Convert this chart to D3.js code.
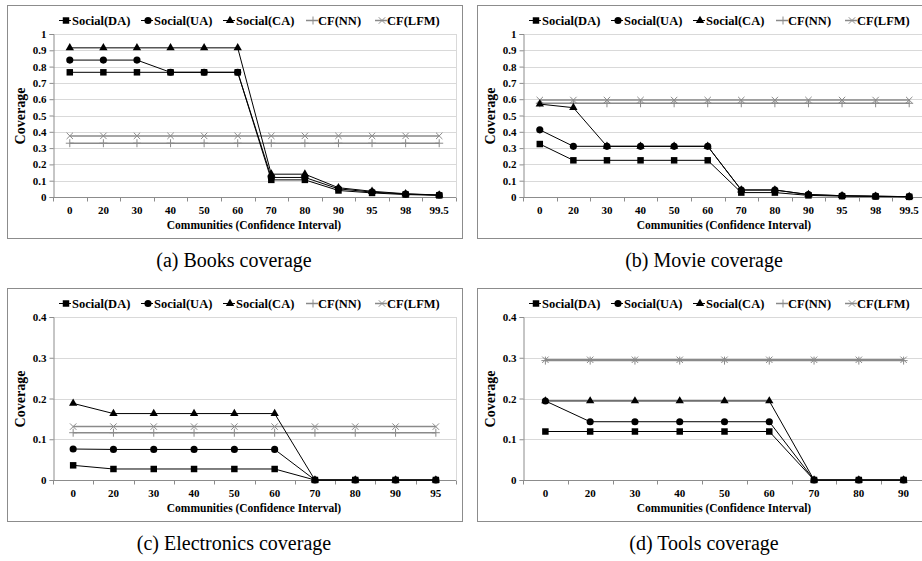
<!DOCTYPE html>
<html>
<head>
<meta charset="utf-8">
<script src="https://cdn.jsdelivr.net/npm/d3@7"></script>
<style>
  html, body { margin: 0; padding: 0; background: #fff; }
  svg { display: block; }
</style>
</head>
<body>
<svg id="chart" width="922" height="561"></svg>
<script>
// ---- Data ---------------------------------------------------------------
const seriesNames = ["Social(DA)", "Social(UA)", "Social(CA)", "CF(NN)", "CF(LFM)"];

const booksCats = ["0", "20", "30", "40", "50", "60", "70", "80", "90", "95", "98", "99.5"];
const booksDA  = [0.765, 0.765, 0.765, 0.765, 0.765, 0.765, 0.105, 0.105, 0.040, 0.025, 0.015, 0.010];
const booksUA  = [0.840, 0.840, 0.840, 0.765, 0.765, 0.765, 0.120, 0.120, 0.050, 0.030, 0.018, 0.012];
const booksCA  = [0.915, 0.915, 0.915, 0.915, 0.915, 0.915, 0.140, 0.140, 0.057, 0.035, 0.020, 0.012];
const booksNN  = [0.330, 0.330, 0.330, 0.330, 0.330, 0.330, 0.330, 0.330, 0.330, 0.330, 0.330, 0.330];
const booksLFM = [0.375, 0.375, 0.375, 0.375, 0.375, 0.375, 0.375, 0.375, 0.375, 0.375, 0.375, 0.375];

const movieCats = ["0", "20", "30", "40", "50", "60", "70", "80", "90", "95", "98", "99.5"];
const movieDA  = [0.325, 0.225, 0.225, 0.225, 0.225, 0.225, 0.027, 0.027, 0.010, 0.005, 0.003, 0.001];
const movieUA  = [0.412, 0.311, 0.311, 0.311, 0.311, 0.311, 0.043, 0.043, 0.015, 0.008, 0.005, 0.002];
const movieCA  = [0.570, 0.548, 0.311, 0.311, 0.311, 0.311, 0.043, 0.043, 0.015, 0.008, 0.005, 0.002];
const movieNN  = [0.575, 0.575, 0.575, 0.575, 0.575, 0.575, 0.575, 0.575, 0.575, 0.575, 0.575, 0.575];
const movieLFM = [0.595, 0.595, 0.595, 0.595, 0.595, 0.595, 0.595, 0.595, 0.595, 0.595, 0.595, 0.595];

const elecCats = ["0", "20", "30", "40", "50", "60", "70", "80", "90", "95"];
const elecDA  = [0.036, 0.027, 0.027, 0.027, 0.027, 0.027, 0, 0, 0, 0];
const elecUA  = [0.076, 0.075, 0.075, 0.075, 0.075, 0.075, 0, 0, 0, 0];
const elecCA  = [0.188, 0.163, 0.163, 0.163, 0.163, 0.163, 0, 0, 0, 0];
const elecNN  = [0.116, 0.116, 0.116, 0.116, 0.116, 0.116, 0.116, 0.116, 0.116, 0.116];
const elecLFM = [0.131, 0.131, 0.131, 0.131, 0.131, 0.131, 0.131, 0.131, 0.131, 0.131];

const toolsCats = ["0", "20", "30", "40", "50", "60", "70", "80", "90"];
const toolsDA  = [0.119, 0.119, 0.119, 0.119, 0.119, 0.119, 0, 0, 0];
const toolsUA  = [0.194, 0.143, 0.143, 0.143, 0.143, 0.143, 0, 0, 0];
const toolsCA  = [0.194, 0.194, 0.194, 0.194, 0.194, 0.194, 0, 0, 0];
const toolsNN  = [0.293, 0.293, 0.293, 0.293, 0.293, 0.293, 0.293, 0.293, 0.293];
const toolsLFM = [0.295, 0.295, 0.295, 0.295, 0.295, 0.295, 0.295, 0.295, 0.295];

const yTicksFull = [0, 0.1, 0.2, 0.3, 0.4, 0.5, 0.6, 0.7, 0.8, 0.9, 1];
const yTicksSmall = [0, 0.1, 0.2, 0.3, 0.4];

const captions = ["(a) Books coverage", "(b) Movie coverage", "(c) Electronics coverage", "(d) Tools coverage"];
const xTitle = "Communities (Confidence Interval)";
const yTitle = "Coverage";

// ---- Panels -------------------------------------------------------------
const panels = [
  { cats: booksCats, series: [booksDA, booksUA, booksCA, booksNN, booksLFM], yMax: 1,   ticks: yTicksFull,  col: 0, row: 0, caption: captions[0] },
  { cats: movieCats, series: [movieDA, movieUA, movieCA, movieNN, movieLFM], yMax: 1,   ticks: yTicksFull,  col: 1, row: 0, caption: captions[1] },
  { cats: elecCats,  series: [elecDA,  elecUA,  elecCA,  elecNN,  elecLFM],  yMax: 0.4, ticks: yTicksSmall, col: 0, row: 1, caption: captions[2] },
  { cats: toolsCats, series: [toolsDA, toolsUA, toolsCA, toolsNN, toolsLFM], yMax: 0.4, ticks: yTicksSmall, col: 1, row: 1, caption: captions[3] }
];

const colOffset = [0, 470];
const rowOffset = [0, 283];

const serif = "'Liberation Serif', 'Times New Roman', serif";
const gridColor = "#d9d9d9";
const axisColor = "#8c8c8c";
const cfColor = "#8a8a8a";

// per-series drawing style
const styles = [
  { color: "#000", width: 1,   symbol: d3.symbolSquare,   size: 42, kind: "fill" },
  { color: "#000", width: 1,   symbol: d3.symbolCircle,   size: 40, kind: "fill" },
  { color: "#000", width: 1,   symbol: d3.symbolTriangle, size: 30, kind: "fill" },
  { color: cfColor, width: 1.5, symbol: "plus",  size: 4, kind: "stroke" },
  { color: cfColor, width: 1.5, symbol: "cross", size: 3.2, kind: "stroke" }
];

const svg = d3.select("#chart");

function drawMarker(g, st, x, y) {
  if (st.kind === "fill") {
    g.append("path")
      .attr("d", d3.symbol().type(st.symbol).size(st.size)())
      .attr("transform", `translate(${x},${y})`)
      .attr("fill", st.color);
  } else {
    const s = st.size;
    const d = st.symbol === "plus"
      ? `M${-s},0H${s}M0,${-s}V${s}`
      : `M${-s},${-s}L${s},${s}M${-s},${s}L${s},${-s}`;
    g.append("path")
      .attr("d", d)
      .attr("transform", `translate(${x},${y})`)
      .attr("stroke", st.color)
      .attr("stroke-width", 1)
      .attr("fill", "none");
  }
}

// legend layout (marker centre, text start) relative to the panel
const legendPos = [[65, 72], [147, 154], [229, 236], [312, 318], [381, 387]];

panels.forEach(p => {
  const ox = colOffset[p.col], oy = rowOffset[p.row];
  const g = svg.append("g").attr("transform", `translate(${ox},${oy})`);

  // outer frame
  g.append("rect")
    .attr("x", 7.5).attr("y", 5.5).attr("width", 455).attr("height", 233)
    .attr("fill", "none").attr("stroke", "#8c8c8c").attr("stroke-width", 1);

  const x = d3.scaleBand().domain(p.cats).range([53, 456]);
  const y = d3.scaleLinear().domain([0, p.yMax]).range([197, 34]);

  // gridlines
  g.append("g").selectAll("line").data(p.ticks.filter(t => t > 0)).join("line")
    .attr("x1", 53).attr("x2", 456)
    .attr("y1", d => Math.round(y(d)) + 0.5).attr("y2", d => Math.round(y(d)) + 0.5)
    .attr("stroke", gridColor).attr("stroke-width", 1);
  // right border of plot area
  g.append("line").attr("x1", 456.5).attr("x2", 456.5).attr("y1", 34).attr("y2", 197)
    .attr("stroke", gridColor);

  // y axis
  const yAxis = d3.axisLeft(y).tickValues(p.ticks).tickSize(4).tickPadding(3)
    .tickFormat(d => d3.format("~g")(+d.toFixed(2)));
  const ya = g.append("g").attr("transform", "translate(53.5,0)").call(yAxis);
  ya.select(".domain").attr("stroke", axisColor);
  ya.selectAll(".tick line").attr("stroke", axisColor);
  ya.selectAll(".tick text")
    .attr("font-family", serif).attr("font-weight", "bold").attr("font-size", 11).attr("fill", "#000");

  // x axis: category labels plus tick marks at band boundaries
  const xa = g.append("g").attr("transform", "translate(0,197.5)");
  xa.append("line").attr("x1", 53).attr("x2", 456).attr("stroke", axisColor);
  const bounds = p.cats.map(c => x(c)).concat([x.range()[1]]);
  xa.selectAll("line.tk").data(bounds).join("line").attr("class", "tk")
    .attr("x1", d => Math.round(d) + 0.5).attr("x2", d => Math.round(d) + 0.5)
    .attr("y1", 0).attr("y2", 4).attr("stroke", axisColor);
  xa.selectAll("text").data(p.cats).join("text")
    .attr("x", d => x(d) + x.bandwidth() / 2).attr("y", 16)
    .attr("text-anchor", "middle")
    .attr("font-family", serif).attr("font-weight", "bold").attr("font-size", 11)
    .text(d => d);

  // axis titles
  g.append("text").attr("x", 254).attr("y", 229).attr("text-anchor", "middle")
    .attr("font-family", serif).attr("font-weight", "bold").attr("font-size", 11.5)
    .text(xTitle);
  g.append("text").attr("transform", "translate(25,116) rotate(-90)").attr("text-anchor", "middle")
    .attr("font-family", serif).attr("font-weight", "bold").attr("font-size", 14)
    .text(yTitle);

  // series: CF lines first, social lines on top
  const cx = c => x(c) + x.bandwidth() / 2;
  const order = [4, 3, 0, 1, 2];
  order.forEach(si => {
    const vals = p.series[si];
    const st = styles[si];
    const sg = g.append("g");
    sg.append("path")
      .datum(vals)
      .attr("fill", "none").attr("stroke", st.color).attr("stroke-width", st.width)
      .attr("d", d3.line().x((d, i) => cx(p.cats[i])).y(d => y(d)));
    vals.forEach((v, i) => drawMarker(sg, st, cx(p.cats[i]), y(v)));
  });

  // legend
  const lg = g.append("g");
  seriesNames.forEach((name, i) => {
    const [mx, tx] = legendPos[i];
    const st = styles[i];
    lg.append("line").attr("x1", mx - 6).attr("x2", mx + 6).attr("y1", 20.5).attr("y2", 20.5)
      .attr("stroke", st.color).attr("stroke-width", st.width);
    drawMarker(lg, st, mx + 1, 20.5);
    lg.append("text").attr("x", tx).attr("y", 25)
      .attr("font-family", serif).attr("font-weight", "bold").attr("font-size", 12.5)
      .text(name);
  });

  // caption
  g.append("text").attr("x", 234).attr("y", 267).attr("text-anchor", "middle")
    .attr("font-family", serif).attr("font-size", 20)
    .text(p.caption);
});
</script>
</body>
</html>
